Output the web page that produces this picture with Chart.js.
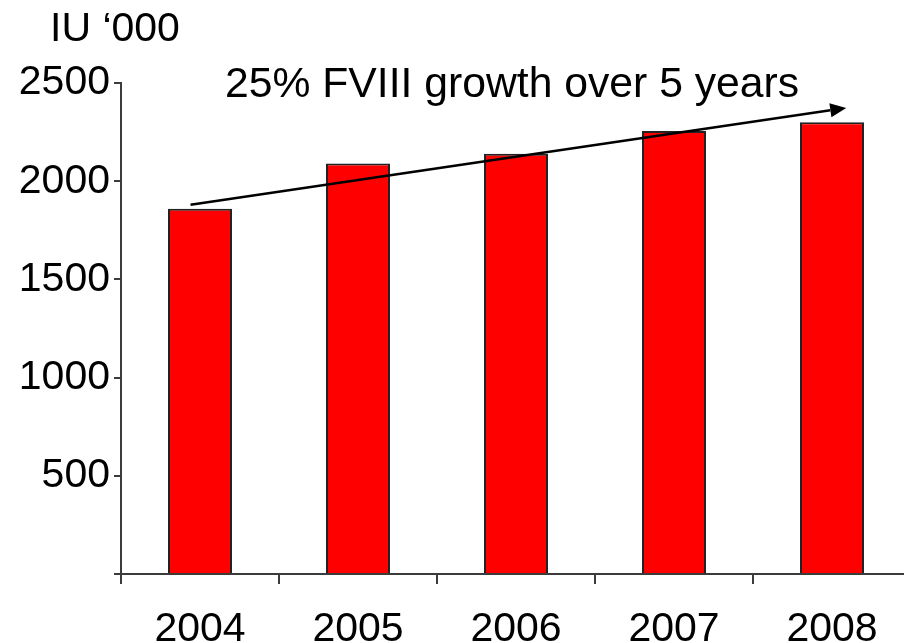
<!DOCTYPE html>
<html>
<head>
<meta charset="utf-8">
<script src="https://cdn.jsdelivr.net/npm/chart.js@4/dist/chart.umd.min.js"></script>
<style>
  html, body { margin: 0; padding: 0; background: #fff; overflow: hidden; }
  #wrap { width: 904px; height: 643px; overflow: hidden; }
</style>
</head>
<body>
<div id="wrap"><canvas id="grafico" width="920" height="643"></canvas></div>
<script>
// yearly FVIII usage, thousands of IU
var years = ['2004', '2005', '2006', '2007', '2008'];
var usage = [1860, 2090, 2140, 2255, 2300];
var yTicks = [0, 500, 1000, 1500, 2000, 2500];

var unitLabel = 'IU \u2018000';
var growthNote = '25% FVIII growth over 5 years';
// trend arrow, in (category index, value) units
var arrowFrom = [-0.06, 1880];
var arrowTo = [4.09, 2373];

var axisColor = '#3c3c3c';
var font = 'Liberation Sans, Arial, sans-serif';

// texts + trend arrow on top of the bars
var extras = {
    id: 'extras',
    afterDatasetsDraw: function(chart) {
        var ctx = chart.ctx;
        var xs = chart.scales.x, ys = chart.scales.y;
        ctx.save();
        ctx.fillStyle = '#000';
        ctx.textBaseline = 'alphabetic';
        ctx.textAlign = 'left';
        ctx.font = '41px ' + font;
        ctx.fillText(unitLabel, 50, 41);
        ctx.font = '42.7px ' + font;
        ctx.fillText(growthNote, 225, 97);

        var x1 = xs.getPixelForValue(arrowFrom[0]), y1 = ys.getPixelForValue(arrowFrom[1]);
        var x2 = xs.getPixelForValue(arrowTo[0]), y2 = ys.getPixelForValue(arrowTo[1]);
        var ang = Math.atan2(y2 - y1, x2 - x1);
        var len = 16, half = 7;
        var bx = x2 - len * Math.cos(ang), by = y2 - len * Math.sin(ang);
        ctx.strokeStyle = '#000';
        ctx.lineWidth = 2.5;
        ctx.beginPath();
        ctx.moveTo(x1, y1);
        ctx.lineTo(bx, by);
        ctx.stroke();
        ctx.beginPath();
        ctx.moveTo(x2, y2);
        ctx.lineTo(bx + half * Math.sin(ang), by - half * Math.cos(ang));
        ctx.lineTo(bx - half * Math.sin(ang), by + half * Math.cos(ang));
        ctx.closePath();
        ctx.fill();
        ctx.restore();
    }
};

var crx = document.getElementById('grafico').getContext('2d');
var myChart = new Chart(crx, {
    type: 'bar',
    data: {
        labels: years,
        datasets: [{
            data: usage,
            backgroundColor: '#ff0000',
            borderColor: '#222222',
            borderWidth: 2,
            barPercentage: 0.405,
            categoryPercentage: 1
        }]
    },
    options: {
        responsive: false,
        animation: false,
        devicePixelRatio: 1,
        layout: { padding: { top: 83, right: 9, left: 0, bottom: 0 } },
        plugins: { legend: { display: false }, tooltip: { enabled: false } },
        scales: {
            x: {
                offset: true,
                grid: { display: true, drawOnChartArea: false, offset: true, tickLength: 10, color: axisColor, lineWidth: 2 },
                border: { color: axisColor, width: 2 },
                ticks: { color: '#000', font: { family: font, size: 41 }, padding: 21, maxRotation: 0 },
                afterFit: function(scale) { scale.height = 69; }
            },
            y: {
                min: 0,
                max: 2500,
                afterBuildTicks: function(scale) {
                    scale.ticks = yTicks.map(function(v) { return { value: v }; });
                },
                grid: { display: true, drawOnChartArea: false, tickLength: 7, color: axisColor, lineWidth: 2 },
                border: { color: axisColor, width: 2 },
                ticks: {
                    color: '#000',
                    font: { family: font, size: 41 },
                    padding: 4,
                    callback: function(v) { return v === 0 ? '' : v; }
                },
                afterFit: function(scale) { scale.width = 121; }
            }
        }
    },
    plugins: [extras]
});
</script>
</body>
</html>
